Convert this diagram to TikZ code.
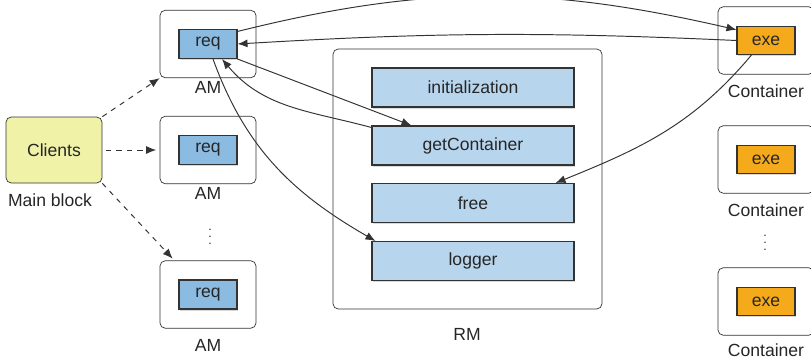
\documentclass[tikz,border=0pt]{standalone}
\usepackage{fontspec}
\setmainfont{Liberation Sans}
\usepackage{tikz}
\usetikzlibrary{shadows,arrows.meta}
\definecolor{clientfill}{HTML}{F0F2A8}
\definecolor{reqfill}{HTML}{8CBBE2}
\definecolor{rmfill}{HTML}{B8D5EE}
\definecolor{exefill}{HTML}{F5AA1C}
\definecolor{edgegray}{HTML}{333333}
\tikzstyle{holder} = [draw=edgegray, rounded corners=3pt, minimum width=1.92cm, minimum height=1.35cm]
\tikzstyle{mainbox} = [holder, fill=clientfill, minimum height=1.32cm]
\tikzstyle{inbox} = [draw=edgegray, line width=0.6pt, drop shadow={shadow xshift=0.7pt, shadow yshift=-0.9pt, opacity=0.3}]
\tikzstyle{reqbox} = [inbox, fill=reqfill, minimum width=1.16cm, minimum height=0.58cm]
\tikzstyle{exebox} = [inbox, fill=exefill, minimum width=1.16cm, minimum height=0.56cm]
\tikzstyle{rmbox} = [inbox, fill=rmfill, minimum width=4.04cm, minimum height=0.78cm]
\tikzstyle{call} = [-{Latex[length=2mm,width=1.6mm]}, draw=edgegray, line width=0.55pt]
\tikzstyle{spawn} = [call, dashed]
\tikzstyle{moredots} = [font=\scriptsize, inner sep=0pt]

\begin{document}
\begin{tikzpicture}
\tikzset{every node/.style={text=black!85}}
\useasboundingbox (0,0) rectangle (16.22,7.26);

\node[mainbox] (clients) at (1.08,4.26) {Clients};
\node (mainlbl) at (1.0,3.26) {Main block};

\foreach \i/\y/\ly in {1/6.38/5.52, 2/4.26/3.40, 3/1.37/0.36}
{
	\node[holder] (am\i) at (4.16,\y) {};
	\node[reqbox] (req\i) at (4.16,\y) {req};
	\node (amlbl\i) at (4.16,\ly) {AM};
}
\node[moredots] (amdots) at (4.2,2.62) {$\vdots$};

\node[holder, minimum width=5.38cm, minimum height=5.2cm] (rm) at (9.35,3.68) {};
\node (rmlbl) at (9.34,0.58) {RM};
\foreach \name/\txt/\y in {init/initialization/5.51, getc/getContainer/4.35, free/free/3.2, logger/logger/2.04}
{
	\node[rmbox] (\name) at (9.46,\y) {\txt};
}

\foreach \i/\y/\ly in {1/6.45/5.44, 2/4.07/3.06, 3/1.23/0.26}
{
	\node[holder] (cont\i) at (15.32,\y) {};
	\node[exebox] (exe\i) at (15.32,\y) {exe};
	\node (contlbl\i) at (15.32,\ly) {Container};
}
\node[moredots] (contdots) at (15.3,2.5) {$\vdots$};

\draw[spawn] (clients.north east) -- (am1.south west);
\draw[spawn] ([xshift=2pt]clients.east) -- ([xshift=-2pt]am2.west);
\draw[spawn] (clients.south east) -- ([xshift=0.26cm,yshift=1pt]am3.north west);

\draw[call] (req1.23) to[out=14, in=167] (exe1.160);
\draw[call] (exe1.west) to[bend right=3] (req1.east);
\draw[call] (req1.south east) -- ([xshift=0.8cm]getc.north west);
\draw[call] ([yshift=-0.04cm]getc.north west) to[out=165, in=-50] ([xshift=0.28cm]req1.south);
\draw[call] ([xshift=0.1cm]req1.south) to[out=-70, in=150] ([xshift=0.08cm]logger.north west);
\draw[call] ([xshift=0.3cm]exe1.south west) to[out=-130, in=22] ([xshift=-0.38cm]free.north east);

\end{tikzpicture}
\end{document}
